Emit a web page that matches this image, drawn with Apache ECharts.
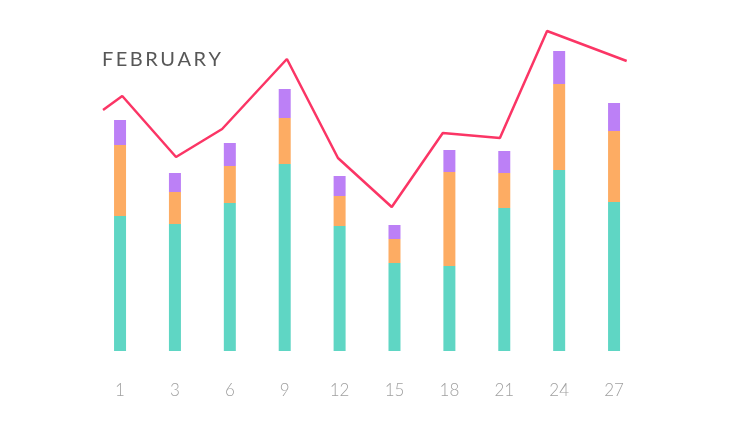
<!DOCTYPE html>
<html><head><meta charset="utf-8">
<script src="https://cdn.jsdelivr.net/npm/echarts@6/dist/echarts.min.js"></script>
<style>html,body{margin:0;padding:0;background:#fff}#c{width:732px;height:425px}</style>
</head><body><div id="c"></div>
<script>
const days = ['1','3','6','9','12','15','18','21','24','27'];
const teal = [135, 127, 148, 187, 125, 88, 85, 143, 181, 149];
const orange = [71, 32, 37, 46, 30, 24, 94, 35, 86, 71];
const purple = [25, 19, 23, 29, 20, 14, 22, 22, 33, 28];
const lineX = [-0.31, 0.04, 1.02, 1.86, 3.04, 3.97, 4.95, 5.88, 6.92, 7.78, 9.23];
const lineY = [241, 255, 194, 222, 292, 193, 144, 218, 213, 320, 290];

const chart = echarts.init(document.getElementById('c'), null, {renderer:'canvas'});
chart.setOption({
  animation: false,
  backgroundColor: '#fff',
  title: {
    text: 'F\u2009E\u2009B\u2009R\u2009U\u2009A\u2009R\u2009Y',
    left: 97, top: 45,
    textStyle: {fontFamily: 'Lato', fontWeight: 'normal', fontSize: 20, color: '#575757'}
  },
  grid: {left: 92.6, right: 90.5, top: 25, bottom: 74},
  xAxis: [{
    type: 'category', data: days,
    axisLine: {show: false}, axisTick: {show: false},
    axisLabel: {color: '#a0a0a0', fontSize: 17, fontFamily: 'Lato', fontWeight: 300, margin: 31}
  }, {
    type: 'value', min: -0.5, max: 9.5, show: false
  }],
  yAxis: {type: 'value', min: 0, max: 326, show: false, splitLine: {show: false}},
  series: [
    {type: 'bar', stack: 's', data: teal, barWidth: 12, itemStyle: {color: '#5fd6c4'}},
    {type: 'bar', stack: 's', data: orange, barWidth: 12, itemStyle: {color: '#fdac63'}},
    {type: 'bar', stack: 's', data: purple, barWidth: 12, itemStyle: {color: '#bc80f6'}},
    {type: 'line', xAxisIndex: 1, data: lineX.map((x, i) => [x, lineY[i]]),
     symbol: 'none', clip: false, lineStyle: {color: '#fb3565', width: 2.5}}
  ]
});
</script></body></html>
